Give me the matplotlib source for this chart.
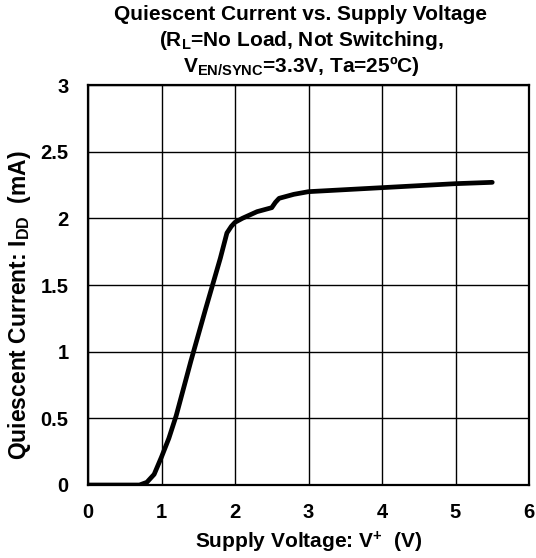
import matplotlib.pyplot as plt

plt.rcParams['font.family'] = ['Liberation Sans', 'DejaVu Sans']
plt.rcParams['font.weight'] = 'bold'
plt.rcParams['mathtext.fontset'] = 'custom'
plt.rcParams['mathtext.default'] = 'bf'
plt.rcParams['mathtext.bf'] = 'Liberation Sans:bold'
plt.rcParams['mathtext.rm'] = 'Liberation Sans:bold'

# supply voltage (V) and quiescent current (mA)
supply_v = [0, 0.7, 0.8, 0.9, 1.0, 1.1, 1.2, 1.4, 1.6, 1.8, 1.89, 1.95, 2.0,
            2.1, 2.3, 2.5, 2.55, 2.6, 2.8, 3.0, 3.5, 4.0, 4.5, 5.0, 5.5]
iq_ma = [0, 0, 0.02, 0.08, 0.21, 0.35, 0.52, 0.93, 1.32, 1.70, 1.89, 1.94, 1.97,
         2.00, 2.05, 2.08, 2.12, 2.15, 2.18, 2.20, 2.215, 2.23, 2.245, 2.26, 2.27]

x_ticks = [0, 1, 2, 3, 4, 5, 6]
y_ticks = [0, 0.5, 1, 1.5, 2, 2.5, 3]
y_tick_labels = ['0', '0.5', '1', '1.5', '2', '2.5', '3']

fig = plt.figure(figsize=(5.36, 5.58), dpi=100)
ax = fig.add_axes([88 / 536, 1 - 485 / 558, 441 / 536, 400 / 558])

ax.plot(supply_v, iq_ma, color='black', lw=3.4, solid_capstyle='round',
        solid_joinstyle='round', zorder=3)

ax.set_xlim(0, 6)
ax.set_ylim(0, 3)
ax.set_xticks(x_ticks)
ax.set_yticks(y_ticks)
ax.set_yticklabels(y_tick_labels)
ax.tick_params(length=0, labelsize=14.5)
ax.tick_params(axis='x', pad=13)
ax.tick_params(axis='y', pad=14)
for lab in ax.get_xticklabels() + ax.get_yticklabels():
    lab.set_fontweight('bold')
ax.grid(True, color='black', lw=1.0)
for s in ax.spines.values():
    s.set_linewidth(1.6)

ax.set_xlabel('Supply Voltage: V$^{+}$  (V)', fontsize=15, fontweight='bold')
ax.set_ylabel('Quiescent Current: I$_{DD}$  (mA)', fontsize=16.5, fontweight='bold')
ax.xaxis.set_label_coords(0.5, (485 - 542) / 400)
ax.xaxis.label.set_va('center')
ax.yaxis.set_label_coords((20 - 88) / 441, (485 - 305) / 400)
ax.yaxis.label.set_va('center')

fig.text(301 / 536, 1 - 15 / 558, 'Quiescent Current vs. Supply Voltage',
         ha='center', va='center', fontsize=15, fontweight='bold')
fig.text(301 / 536, 1 - 41 / 558, '(R$_{L}$=No Load, Not Switching,',
         ha='center', va='center', fontsize=15, fontweight='bold')
fig.text(301 / 536, 1 - 66 / 558, 'V$_{EN/SYNC}$=3.3V, Ta=25ºC)',
         ha='center', va='center', fontsize=15, fontweight='bold')

fig.savefig('out.png', dpi=100)
